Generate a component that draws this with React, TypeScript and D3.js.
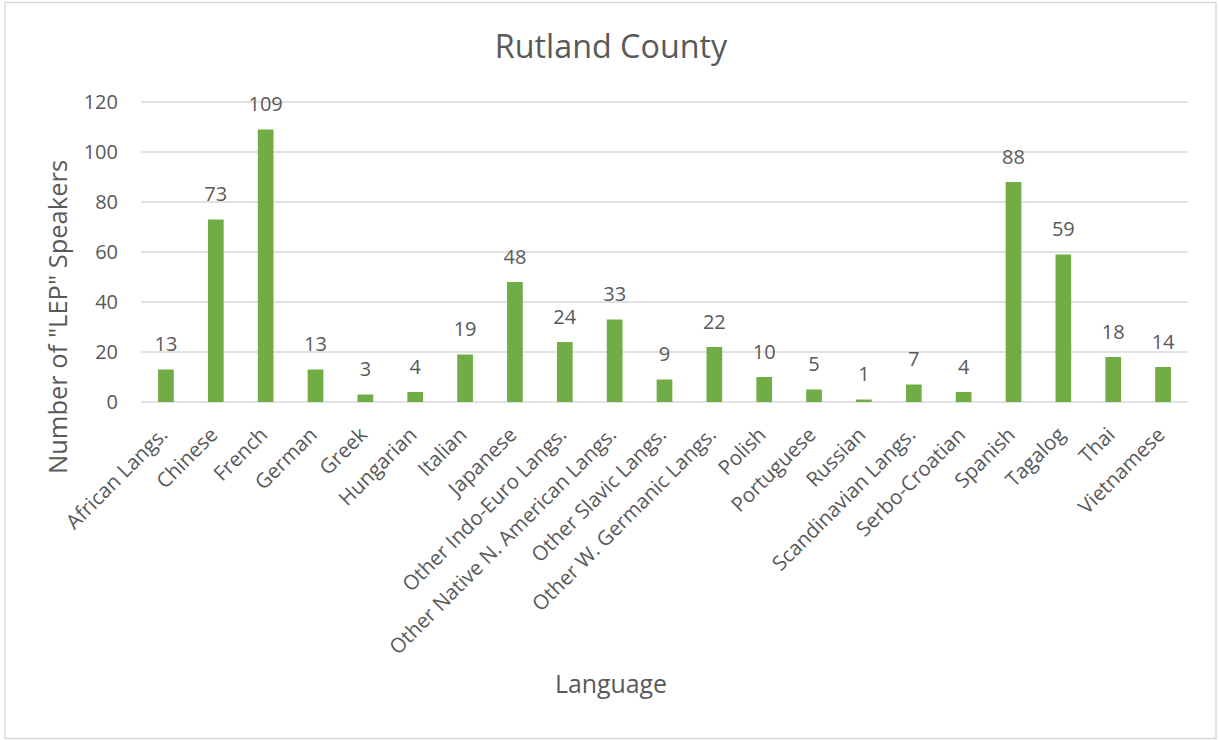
import React from "react";
import * as d3 from "d3";

const categories: string[] = [
  "African Langs.",
  "Chinese",
  "French",
  "German",
  "Greek",
  "Hungarian",
  "Italian",
  "Japanese",
  "Other Indo-Euro Langs.",
  "Other Native N. American Langs.",
  "Other Slavic Langs.",
  "Other W. Germanic Langs.",
  "Polish",
  "Portuguese",
  "Russian",
  "Scandinavian Langs.",
  "Serbo-Croatian",
  "Spanish",
  "Tagalog",
  "Thai",
  "Vietnamese",
];

const speakers: number[] = [13, 73, 109, 13, 3, 4, 19, 48, 24, 33, 9, 22, 10, 5, 1, 7, 4, 88, 59, 18, 14];

const yTicks: number[] = [0, 20, 40, 60, 80, 100, 120];

const title = "Rutland County";
const xTitle = "Language";
const yTitle = 'Number of "LEP" Speakers';

const W = 1219;
const H = 740;
const plot = { left: 141, right: 1188, top: 102, bottom: 402 };
const FONT = "'Open Sans', 'Noto Sans', sans-serif";
const TEXT = "#595959";
const GRID = "#D9D9D9";
const BAR = "#70AD47";

export default function App() {
  const x = d3
    .scaleBand<string>()
    .domain(categories)
    .range([plot.left, plot.right])
    .paddingInner(0.685)
    .paddingOuter(0.3425);
  const y = d3.scaleLinear().domain([0, 120]).range([plot.bottom, plot.top]);

  return (
    <svg
      width={W}
      height={H}
      style={{ position: "absolute", left: 0, top: 0, background: "#fff" }}
      fontFamily={FONT}
    >
      <rect x={5} y={2.5} width={1211} height={736} fill="#fff" stroke={GRID} strokeWidth={1.5} />
      <text x={611} y={58} textAnchor="middle" fontSize={32.3} fill={TEXT}>
        {title}
      </text>
      {yTicks.map((t) => (
        <g key={t}>
          <line x1={plot.left} x2={plot.right} y1={y(t)} y2={y(t)} stroke={GRID} strokeWidth={1.3} />
          <text x={118} y={y(t)} dy="0.36em" textAnchor="end" fontSize={20} fill={TEXT}>
            {t}
          </text>
        </g>
      ))}
      {categories.map((c, i) => {
        const v = speakers[i];
        const bx = x(c) as number;
        const cx = bx + x.bandwidth() / 2;
        return (
          <g key={c}>
            <rect x={bx} y={y(v)} width={x.bandwidth()} height={y(0) - y(v)} fill={BAR} />
            <text x={cx} y={y(v) - 18.5} textAnchor="middle" fontSize={20} fill={TEXT}>
              {v}
            </text>
            <text
              transform={`translate(${cx + 3},${plot.bottom + 34}) rotate(-45)`}
              textAnchor="end"
              fontSize={20.5}
              fill={TEXT}
            >
              {c}
            </text>
          </g>
        );
      })}
      <text x={611} y={693} textAnchor="middle" fontSize={24.9} fill={TEXT}>
        {xTitle}
      </text>
      <text
        transform={`translate(66.5,317) rotate(-90)`}
        textAnchor="middle"
        fontSize={25.5}
        fill={TEXT}
      >
        {yTitle}
      </text>
    </svg>
  );
}
